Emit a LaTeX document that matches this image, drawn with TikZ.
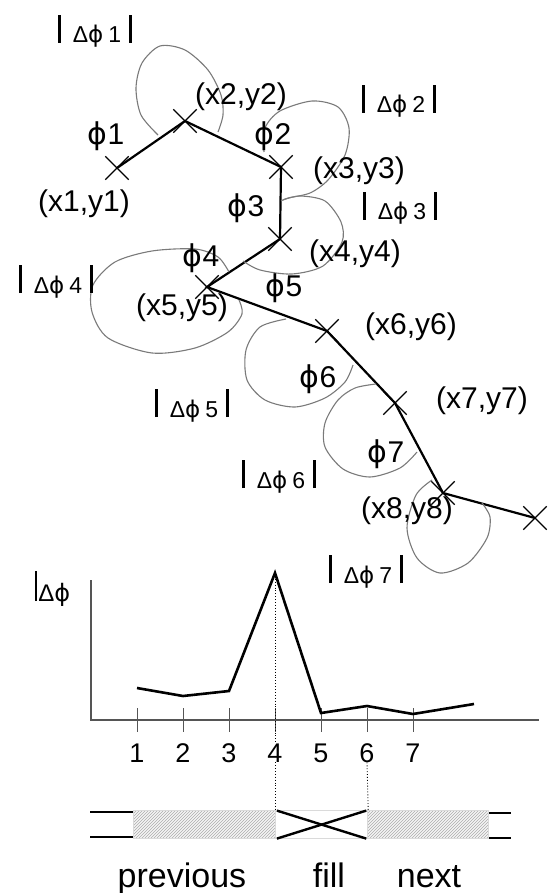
\documentclass[tikz,border=0pt]{standalone}
\usepackage{fontspec}
\setmainfont{Liberation Sans}
\newfontfamily\phifont{DejaVu Sans}
\usetikzlibrary{shapes.misc,patterns}
\definecolor{LoopGray}{HTML}{7A7A7A}
\definecolor{AxisGray}{HTML}{555555}
\definecolor{BarGray}{HTML}{DADADA}
\newcommand{\ph}{{\phifont ϕ}}
\newcommand{\dphi}[1]{\rule{2.4pt}{28pt}\hspace{12pt}Δ\ph\hspace{5pt}#1\hspace{8pt}\rule{2.4pt}{28pt}}

\begin{document}
\begin{tikzpicture}[
  x=1pt, y=-1pt,
  every node/.style={inner sep=0pt},
  pt/.style={cross out, draw, line width=1.3pt, minimum size=22pt},
  xylab/.style={font=\fontsize{30}{32}\selectfont},
  philab/.style={font=\fontsize{30}{32}\selectfont},
  dlab/.style={font=\fontsize{23}{25}\selectfont, anchor=base},
  chain/.style={line width=2.2pt},
  loopline/.style={draw=LoopGray, line width=1.1pt},
  axis/.style={draw=AxisGray, line width=1.1pt},
  tick/.style={draw=AxisGray, line width=1pt},
  curve/.style={line width=2.6pt, line join=miter},
  guide/.style={dotted, line width=0.9pt},
  seg/.style={draw=BarGray, line width=1.2pt, minimum height=28pt, anchor=north west,
    preaction={fill=gray!8}, pattern=north east lines, pattern color=gray!65},
  rail/.style={line width=2.2pt},
  barlab/.style={font=\fontsize{34}{36}\selectfont, anchor=base}
]
\useasboundingbox (0,0) rectangle (547,893);

\node[pt] (p1) at (117,168) {};
\node[pt] (p2) at (185,121) {};
\node[pt] (p3) at (281,167) {};
\node[pt] (p4) at (280,239) {};
\node[pt] (p5) at (207,287) {};
\node[pt] (p6) at (327,331) {};
\node[pt] (p7) at (395,403) {};
\node[pt] (p8) at (443,493) {};
\node[pt] (p9) at (535,518) {};

\draw[chain] (p1.center) -- (p2.center) -- (p3.center) -- (p4.center) -- (p5.center)
  -- (p6.center) -- (p7.center) -- (p8.center) -- (p9.center);

\draw[loopline] plot[smooth] coordinates {(158,135) (141,115) (136,88) (142,63) (160,46)
  (185,50) (208,70) (221,95) (223,115) (218,132)};
\draw[loopline] plot[smooth] coordinates {(264,152) (265,128) (280,111) (312,101) (338,107)
  (349,128) (345,155) (328,180) (310,193) (288,198) (281,201)};
\draw[loopline] plot[smooth] coordinates {(283,200) (300,196) (325,201) (341,222) (342,242)
  (323,266) (292,274) (260,270) (243,261)};
\draw[loopline] plot[smooth] coordinates {(239,300) (242,314) (228,332) (195,348) (152,353)
  (108,338) (92,312) (93,285) (115,262) (152,251) (195,249) (218,257) (229,272)};
\draw[loopline] plot[smooth] coordinates {(286,319) (260,327) (246,350) (247,380) (265,400)
  (295,407) (325,398) (345,382) (353,365)};
\draw[loopline] plot[smooth] coordinates {(376,384) (355,388) (338,400) (325,423) (325,447)
  (343,469) (370,477) (400,468) (417,452)};
\draw[loopline] plot[smooth] coordinates {(432,480) (416,495) (407,528) (417,558) (440,573)
  (468,563) (487,538) (490,517) (482,503)};

\node[xylab] (l1) at (84,204) {(x1,y1)};
\node[xylab] (l2) at (241,97) {(x2,y2)};
\node[xylab] (l3) at (359,171) {(x3,y3)};
\node[xylab] (l4) at (355,254) {(x4,y4)};
\node[xylab] (l5) at (182,308) {(x5,y5)};
\node[xylab] (l6) at (411,327) {(x6,y6)};
\node[xylab] (l7) at (482,401) {(x7,y7)};
\node[xylab] (l8) at (407,511) {(x8,y8)};

\node[philab] (f1) at (106,136) {\ph1};
\node[philab] (f2) at (273,136) {\ph2};
\node[philab] (f3) at (246,208) {\ph3};
\node[philab] (f4) at (201,258) {\ph4};
\node[philab] (f5) at (284,288) {\ph5};
\node[philab] (f6) at (318,379) {\ph6};
\node[philab] (f7) at (386,454) {\ph7};

\node[dlab] (d1) at (95,43) {\dphi{1}};
\node[dlab] (d2) at (399,113) {\dphi{2}};
\node[dlab] (d3) at (400,220) {\dphi{3}};
\node[dlab] (d4) at (56,293) {\dphi{4}};
\node[dlab] (d5) at (192,417) {\dphi{5}};
\node[dlab] (d6) at (279,488) {\dphi{6}};
\node[dlab] (d7) at (366,583) {\dphi{7}};

\node[font=\fontsize{24}{26}\selectfont, anchor=base west] (ylab) at (35,601)
  {\rule{2.2pt}{30pt}\hspace{1pt}Δ\ph};
\coordinate (ytop) at (91,580);
\coordinate (orig) at (91,720);
\coordinate (xend) at (539,720);
\draw[axis] (ytop) -- (orig) -- (xend);

\foreach \i in {1,...,7} {
  \draw[tick] ({91+46*\i},708) -- ({91+46*\i},732);
  \node[font=\fontsize{27}{29}\selectfont, anchor=base] (n\i) at ({91+46*\i},762) {\i};
}

\coordinate (c1) at (137,688);
\coordinate (c2) at (183,696);
\coordinate (c3) at (229,691);
\coordinate (c4) at (275,573);
\coordinate (c5) at (321,713);
\coordinate (c6) at (367,706);
\coordinate (c7) at (413,714);
\coordinate (c8) at (474,704);
\draw[curve] (c1) -- (c2) -- (c3) -- (c4) -- (c5) -- (c6) -- (c7) -- (c8);

\node[seg, minimum width=142pt] (prev) at (133,810) {};
\node[draw=BarGray, line width=1.2pt, fill=white, minimum height=28pt, minimum width=92pt,
  anchor=north west] (fillseg) at (275,810) {};
\node[seg, minimum width=121pt] (next) at (367,810) {};
\draw[line width=2.4pt, shorten <=2pt, shorten >=2pt] (fillseg.north west) -- (fillseg.south east);
\draw[line width=2.4pt, shorten <=2pt, shorten >=2pt] (fillseg.south west) -- (fillseg.north east);

\draw[rail] (prev.north west) ++(0,2) -- ++(-43,0);
\draw[rail] (prev.south west) ++(0,-2) -- ++(-43,0);
\draw[rail] (next.north east) ++(0,3) -- ++(22,0);
\draw[rail] (next.south east) ++(0,-1) -- ++(22,0);

\draw[guide] (c4) -- (n4.north);
\draw[guide] (n4.south) -- (fillseg.north west);
\draw[guide] (n6.south) -- (fillseg.north east);

\node[barlab] (lprev) at (182,887) {previous};
\node[barlab] (lfill) at (329,887) {fill};
\node[barlab] (lnext) at (429,887) {next};
\end{tikzpicture}
\end{document}
